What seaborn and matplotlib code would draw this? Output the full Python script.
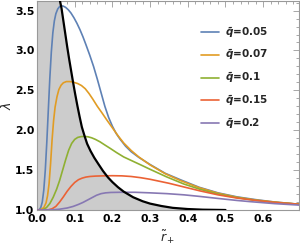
import numpy as np
import pandas as pd
import matplotlib
matplotlib.use("Agg")
import matplotlib.pyplot as plt
from matplotlib.ticker import MultipleLocator
import seaborn as sns

# ---------------- data ----------------
q_labels = ["0.05", "0.07", "0.1", "0.15", "0.2"]

r_q005 = [0.000, 0.006, 0.010, 0.014, 0.018, 0.022, 0.026, 0.030, 0.034, 0.038, 0.042, 0.046,
          0.050, 0.055, 0.060, 0.065, 0.070, 0.076, 0.083, 0.090, 0.098, 0.106, 0.114, 0.122,
          0.130, 0.140, 0.150, 0.160, 0.170, 0.180, 0.190, 0.200, 0.210, 0.220, 0.235, 0.250,
          0.270, 0.300, 0.340, 0.380, 0.430, 0.480, 0.530, 0.580, 0.630, 0.700]
l_q005 = [1.000, 1.005, 1.030, 1.100, 1.250, 1.500, 1.850, 2.250, 2.650, 2.980, 3.220, 3.370,
          3.460, 3.520, 3.550, 3.560, 3.555, 3.540, 3.510, 3.470, 3.410, 3.340, 3.260, 3.170,
          3.070, 2.940, 2.800, 2.640, 2.470, 2.300, 2.160, 2.050, 1.960, 1.890, 1.800, 1.730,
          1.660, 1.570, 1.460, 1.380, 1.285, 1.215, 1.165, 1.130, 1.100, 1.070]

r_q007 = [0.000, 0.010, 0.018, 0.024, 0.028, 0.032, 0.036, 0.040, 0.044, 0.048, 0.053, 0.058,
          0.064, 0.070, 0.078, 0.088, 0.098, 0.108, 0.118, 0.128, 0.138, 0.148, 0.160, 0.172,
          0.185, 0.200, 0.215, 0.230, 0.250, 0.270, 0.300, 0.340, 0.380, 0.430, 0.480, 0.530,
          0.580, 0.630, 0.700]
l_q007 = [1.000, 1.005, 1.030, 1.090, 1.180, 1.330, 1.580, 1.880, 2.120, 2.290, 2.420, 2.510,
          2.565, 2.595, 2.610, 2.610, 2.600, 2.585, 2.560, 2.520, 2.460, 2.390, 2.300, 2.220,
          2.130, 2.030, 1.930, 1.840, 1.745, 1.665, 1.565, 1.455, 1.370, 1.280, 1.210, 1.160,
          1.125, 1.100, 1.070]

r_q010 = [0.000, 0.015, 0.025, 0.034, 0.043, 0.052, 0.060, 0.068, 0.076, 0.084, 0.092, 0.100,
          0.108, 0.117, 0.126, 0.135, 0.145, 0.155, 0.167, 0.180, 0.195, 0.211, 0.230, 0.255,
          0.280, 0.300, 0.344, 0.390, 0.432, 0.480, 0.530, 0.580, 0.630, 0.700]
l_q010 = [1.000, 1.003, 1.030, 1.080, 1.160, 1.260, 1.370, 1.500, 1.630, 1.750, 1.835, 1.885,
          1.910, 1.920, 1.922, 1.918, 1.905, 1.885, 1.855, 1.815, 1.770, 1.720, 1.665, 1.610,
          1.555, 1.510, 1.415, 1.325, 1.260, 1.200, 1.155, 1.120, 1.095, 1.070]

r_q015 = [0.000, 0.030, 0.040, 0.050, 0.060, 0.070, 0.080, 0.090, 0.100, 0.110, 0.120, 0.130,
          0.140, 0.155, 0.175, 0.200, 0.225, 0.250, 0.275, 0.300, 0.325, 0.350, 0.380, 0.432,
          0.480, 0.530, 0.580, 0.630, 0.700]
l_q015 = [1.000, 1.003, 1.015, 1.045, 1.100, 1.165, 1.235, 1.295, 1.345, 1.380, 1.400, 1.413,
          1.420, 1.425, 1.428, 1.430, 1.428, 1.420, 1.405, 1.385, 1.360, 1.335, 1.300, 1.240,
          1.190, 1.150, 1.120, 1.095, 1.070]

r_q020 = [0.000, 0.040, 0.060, 0.080, 0.096, 0.110, 0.122, 0.134, 0.146, 0.158, 0.170, 0.182,
          0.196, 0.220, 0.260, 0.300, 0.345, 0.390, 0.432, 0.480, 0.530, 0.565, 0.630, 0.700]
l_q020 = [1.000, 1.002, 1.010, 1.025, 1.045, 1.070, 1.095, 1.125, 1.155, 1.185, 1.205, 1.215,
          1.220, 1.222, 1.222, 1.215, 1.205, 1.190, 1.170, 1.145, 1.120, 1.105, 1.080, 1.060]

# boundary curve (locus of the maxima)
r_bound = [0.061, 0.065, 0.070, 0.075, 0.080, 0.085, 0.090, 0.095, 0.101, 0.107, 0.113, 0.119,
           0.126, 0.133, 0.142, 0.152, 0.163, 0.175, 0.188, 0.200, 0.215, 0.230, 0.255, 0.280,
           0.300, 0.330, 0.360, 0.400, 0.440, 0.500]
l_bound = [3.620, 3.530, 3.370, 3.210, 3.050, 2.900, 2.760, 2.620, 2.460, 2.310, 2.170, 2.040,
           1.930, 1.830, 1.740, 1.655, 1.575, 1.490, 1.410, 1.350, 1.285, 1.230, 1.160, 1.110,
           1.080, 1.050, 1.027, 1.012, 1.004, 1.000]

x_ticks = [0.0, 0.1, 0.2, 0.3, 0.4, 0.5, 0.6]
y_ticks = [1.0, 1.5, 2.0, 2.5, 3.0, 3.5]

# ---------------- figure ----------------
sns.set_theme(style="white")
plt.rcParams["font.family"] = ["DejaVu Sans"]
plt.rcParams["mathtext.fontset"] = "custom"
plt.rcParams["mathtext.bf"] = "DejaVu Sans:bold:italic"
plt.rcParams["mathtext.it"] = "DejaVu Sans:italic"
plt.rcParams["mathtext.rm"] = "DejaVu Sans"

colors = ["#5E81B5", "#E19C24", "#8FB032", "#EB6235", "#8778B3"]

frames = []
for lab, rr, ll in zip(q_labels, [r_q005, r_q007, r_q010, r_q015, r_q020],
                       [l_q005, l_q007, l_q010, l_q015, l_q020]):
    frames.append(pd.DataFrame({"r": rr, "lam": ll,
                                "q": r"$\mathbf{\tilde{q}}$=" + lab}))
df = pd.concat(frames, ignore_index=True)
hue_order = [r"$\mathbf{\tilde{q}}$=" + lab for lab in q_labels]

fig = plt.figure(figsize=(3.0, 2.46), dpi=100)
ax = fig.add_axes([37 / 300, 1 - 210 / 246, 262 / 300, 209 / 246])

ymin, ymax = 1.0, 3.62
xmin, xmax = 0.0, 0.695

# shaded region left of the boundary curve
fx = np.r_[xmin, r_bound]
fy = np.r_[ymax, l_bound]
ax.fill_between(fx, ymin, fy, color="#CCCCCC", lw=0, zorder=1)

sns.lineplot(data=df, x="r", y="lam", hue="q", hue_order=hue_order,
             palette=colors, linewidth=1.2, sort=False, estimator=None,
             ax=ax, zorder=3)
sns.lineplot(x=r_bound, y=l_bound, color="black", linewidth=1.6, sort=False,
             estimator=None, ax=ax, zorder=4)

ax.set_xlim(xmin, xmax)
ax.set_ylim(ymin, ymax)
ax.set_xticks(x_ticks)
ax.set_yticks(y_ticks)
ax.set_xticklabels([f"{v:.1f}" for v in x_ticks])
ax.set_yticklabels([f"{v:.1f}" for v in y_ticks])
ax.xaxis.set_minor_locator(MultipleLocator(0.02))
ax.yaxis.set_minor_locator(MultipleLocator(0.1))
ax.tick_params(which="both", direction="in", top=True, right=True,
               color="#999999", width=0.6)
ax.tick_params(which="major", length=4, labelsize=7.8, pad=2, labelcolor="black")
ax.tick_params(axis="x", which="major", pad=3)
ax.tick_params(which="minor", length=2)
for t in ax.get_xticklabels() + ax.get_yticklabels():
    t.set_fontweight("bold")
for s in ax.spines.values():
    s.set_color("#999999")
    s.set_linewidth(0.8)

ax.set_xlabel(r"$\tilde{r}_+$", fontsize=9, labelpad=3)
ax.set_ylabel(r"$\lambda$", fontsize=9)
ax.yaxis.set_label_coords(-0.088, 0.5)

leg = ax.legend(loc="upper left", bbox_to_anchor=(201 / 300, 1 - 25 / 246),
                bbox_transform=fig.transFigure, frameon=False, fontsize=7.5,
                handlelength=1.7, handletextpad=0.6, labelspacing=0.78,
                borderpad=0, borderaxespad=0)
for t in leg.get_texts():
    t.set_fontweight("bold")

fig.savefig("out.png", dpi=100)
